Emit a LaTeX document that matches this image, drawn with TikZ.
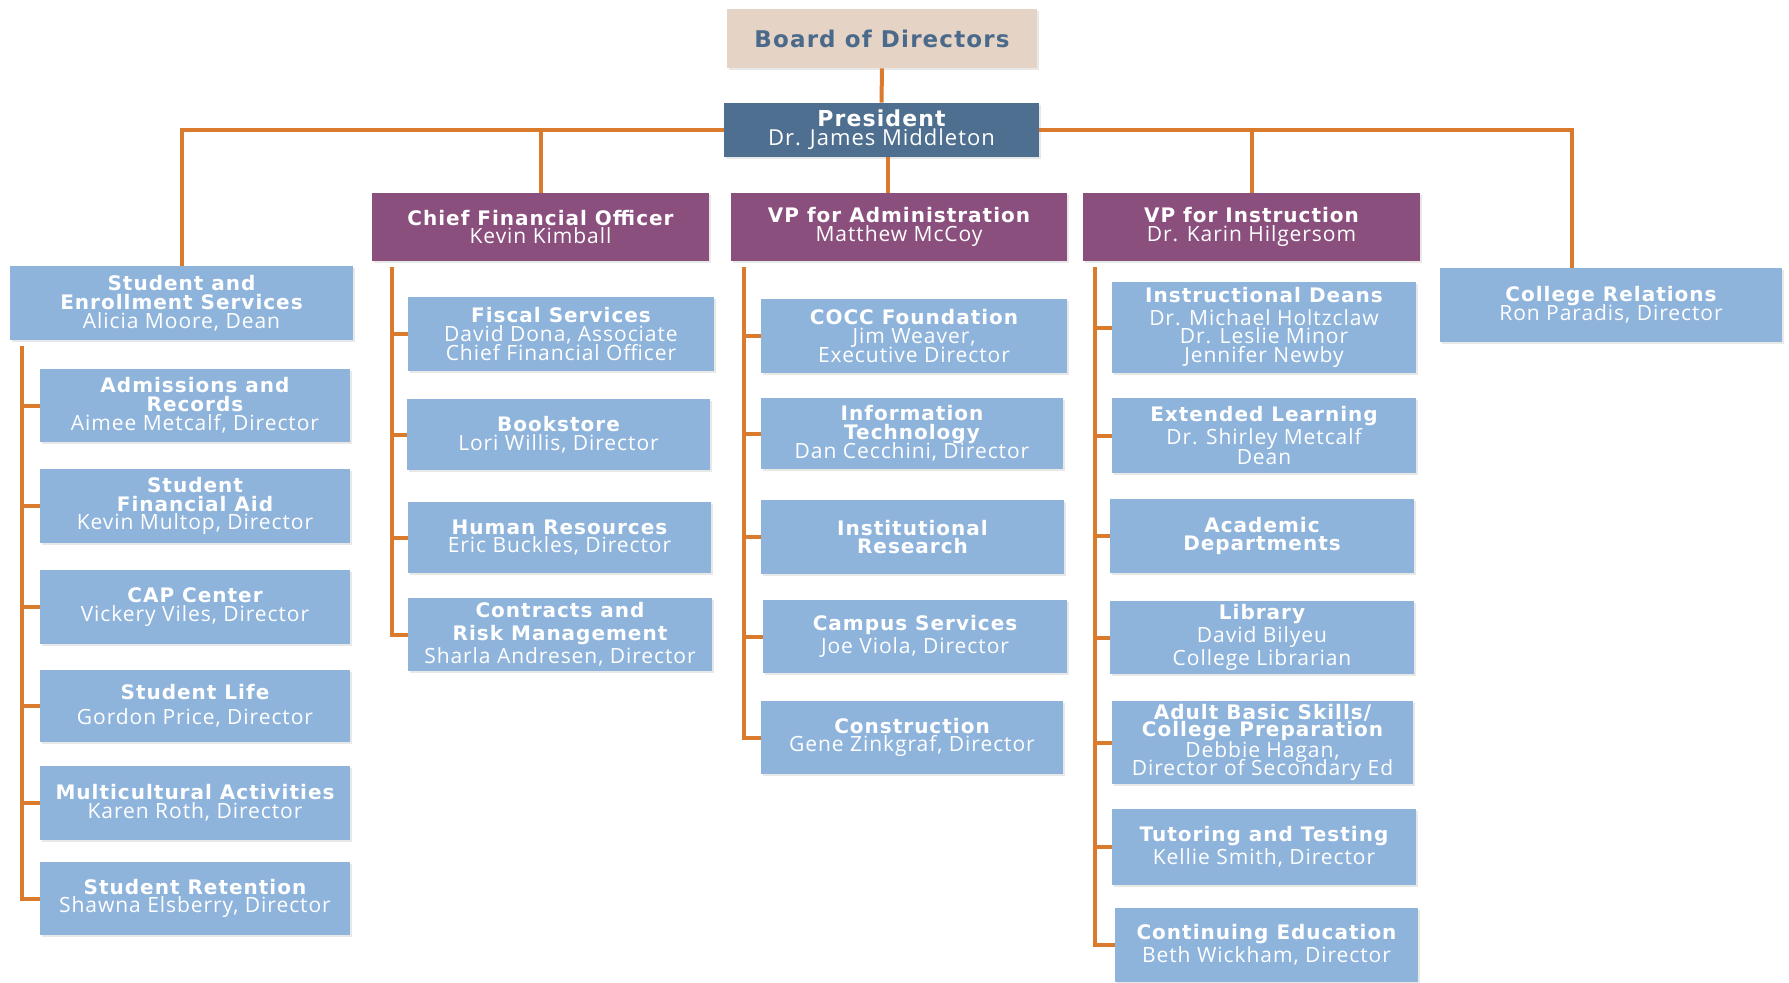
\documentclass[tikz,border=0pt]{standalone}
\usepackage{fontspec}
\setmainfont{Open Sans}[LetterSpace=4.5]
\newfontfamily\ttlfont{DejaVu Sans}[LetterSpace=5]
\usetikzlibrary{shadows}
\definecolor{lblue}{HTML}{8FB4DC}
\definecolor{purp}{HTML}{8B4F7E}
\definecolor{pres}{HTML}{4E6F8F}
\definecolor{beige}{HTML}{E5D4C5}
\definecolor{btext}{HTML}{4B6A8B}
\definecolor{orng}{HTML}{DA7A2C}
\newcommand\ttl[1]{{\ttlfont\bfseries\fontsize{10}{9.4}\selectfont #1}}
\newcommand\ob[6]{\node[#6, minimum width={(#4-#2)*0.5pt}, minimum height={(#5-#3)*0.5pt}] (#1) at ({(#2+#4)/2},{(#3+#5)/2})}
\tikzset{
  box/.style={rectangle, inner sep=0pt, align=center, text=white,
    font={\fontsize{10.5}{9.4}\selectfont\lineskiplimit=-30pt\lineskip=0pt},
    drop shadow={fill=black!18, shadow xshift=1.2pt, shadow yshift=-1.2pt}},
  lb/.style={box, fill=lblue},
  vp/.style={box, fill=purp},
  pr/.style={box, fill=pres},
  bd/.style={box, fill=beige, text=btext},
  conn/.style={draw=orng, line width=2pt}
}
\begin{document}
\begin{tikzpicture}[x=0.5pt,y=-0.5pt]
\useasboundingbox (0,0) rectangle (1789,982);
% top
\ob{board}{727}{9}{1037}{68}{bd} {{\ttlfont\bfseries\fontsize{11.5}{12}\selectfont Board of Directors}};
\ob{pres}{724}{103}{1039}{157}{pr} {{\ttlfont\bfseries\fontsize{11}{10}\selectfont President}\\{\fontsize{11}{10}\selectfont Dr. James Middleton}};
\ob{cfo}{372}{193}{709}{261}{vp} {\ttl{Chief Financial Officer}\\Kevin Kimball};
\ob{vpa}{731}{193}{1067}{261}{vp} {\ttl{VP for Administration}\\Matthew McCoy};
\ob{vpi}{1083}{193}{1420}{261}{vp} {\ttl{VP for Instruction}\\Dr. Karin Hilgersom};
\ob{ses}{10}{266}{353}{340}{lb} {\ttl{Student and}\\\ttl{Enrollment Services}\\Alicia Moore, Dean};
\ob{cr}{1440}{268}{1782}{342}{lb} {\ttl{College Relations}\\Ron Paradis, Director};
% left column
\ob{adm}{40}{369}{350}{442}{lb} {\ttl{Admissions and}\\\ttl{Records}\\Aimee Metcalf, Director};
\ob{sfa}{40}{469}{350}{543}{lb} {\ttl{Student}\\\ttl{Financial Aid}\\Kevin Multop, Director};
\ob{cap}{40}{570}{350}{644}{lb} {\ttl{CAP Center}\\Vickery Viles, Director};
\ob{slife}{40}{670}{350}{742}{lb} {\ttl{Student Life}\\[3pt]Gordon Price, Director};
\ob{multi}{40}{766}{350}{840}{lb} {\ttl{Multicultural Activities}\\Karen Roth, Director};
\ob{ret}{40}{862}{350}{935}{lb} {\ttl{Student Retention}\\Shawna Elsberry, Director};
% CFO column
\ob{fis}{408}{297}{714}{371}{lb} {\ttl{Fiscal Services}\\David Dona, Associate\\Chief Financial Officer};
\ob{book}{407}{399}{710}{470}{lb} {\ttl{Bookstore}\\Lori Willis, Director};
\ob{hr}{408}{502}{711}{573}{lb} {\ttl{Human Resources}\\Eric Buckles, Director};
\ob{contr}{408}{598}{712}{671}{lb} {\ttl{Contracts and}\\[2pt]\ttl{Risk Management}\\[2pt]Sharla Andresen, Director};
% VPA column
\ob{cocc}{761}{299}{1067}{373}{lb} {\ttl{COCC Foundation}\\Jim Weaver,\\Executive Director};
\ob{it}{761}{398}{1063}{469}{lb} {\ttl{Information}\\\ttl{Technology}\\Dan Cecchini, Director};
\ob{ir}{761}{500}{1064}{574}{lb} {\ttl{Institutional}\\\ttl{Research}};
\ob{camp}{763}{600}{1067}{673}{lb} {\ttl{Campus Services}\\[2pt]Joe Viola, Director};
\ob{cons}{761}{701}{1063}{774}{lb} {\ttl{Construction}\\Gene Zinkgraf, Director};
% VPI column
\ob{deans}{1112}{282}{1416}{373}{lb} {\ttl{Instructional Deans}\\[2pt]Dr. Michael Holtzclaw\\Dr. Leslie Minor\\Jennifer Newby};
\ob{ext}{1112}{398}{1416}{473}{lb} {\ttl{Extended Learning}\\[2pt]Dr. Shirley Metcalf\\[1pt]Dean};
\ob{acad}{1110}{499}{1414}{573}{lb} {\ttl{Academic}\\\ttl{Departments}};
\ob{lib}{1110}{601}{1414}{674}{lb} {\ttl{Library}\\[2pt]David Bilyeu\\[2pt]College Librarian};
\ob{adult}{1112}{701}{1413}{784}{lb} {\ttl{Adult Basic Skills/}\\[-0.5pt]\ttl{College Preparation}\\[1pt]Debbie Hagan,\\[-0.3pt]Director of Secondary Ed};
\ob{tut}{1112}{809}{1416}{885}{lb} {\ttl{Tutoring and Testing}\\[2pt]Kellie Smith, Director};
\ob{cont}{1115}{908}{1418}{982}{lb} {\ttl{Continuing Education}\\[2pt]Beth Wickham, Director};
% connectors
\draw[conn] (board.south) -- (pres.north);
\draw[conn] (ses.north) |- (pres.west);
\draw[conn] (pres.east) -| ([xshift=-19.5pt]cr.north);
\draw[conn] (cfo.north) -- (cfo.north |- pres.west);
\draw[conn] ([xshift=3pt]pres.south) -- ([xshift=3pt]pres.south |- vpa.north);
\draw[conn] (vpi.north) -- (vpi.north |- pres.east);
\coordinate (s1) at (22,346);
\coordinate (s2) at (392,267);
\coordinate (s3) at (744,267);
\coordinate (s4) at (1095,267);
\foreach \c in {adm,sfa,cap,slife,multi,ret} \draw[conn] (s1) |- (\c.west);
\foreach \c in {fis,book,hr,contr} \draw[conn] (s2) |- (\c.west);
\foreach \c in {cocc,it,ir,camp,cons} \draw[conn] (s3) |- (\c.west);
\foreach \c in {deans,ext,acad,lib,adult,tut,cont} \draw[conn] (s4) |- (\c.west);
\end{tikzpicture}
\end{document}
